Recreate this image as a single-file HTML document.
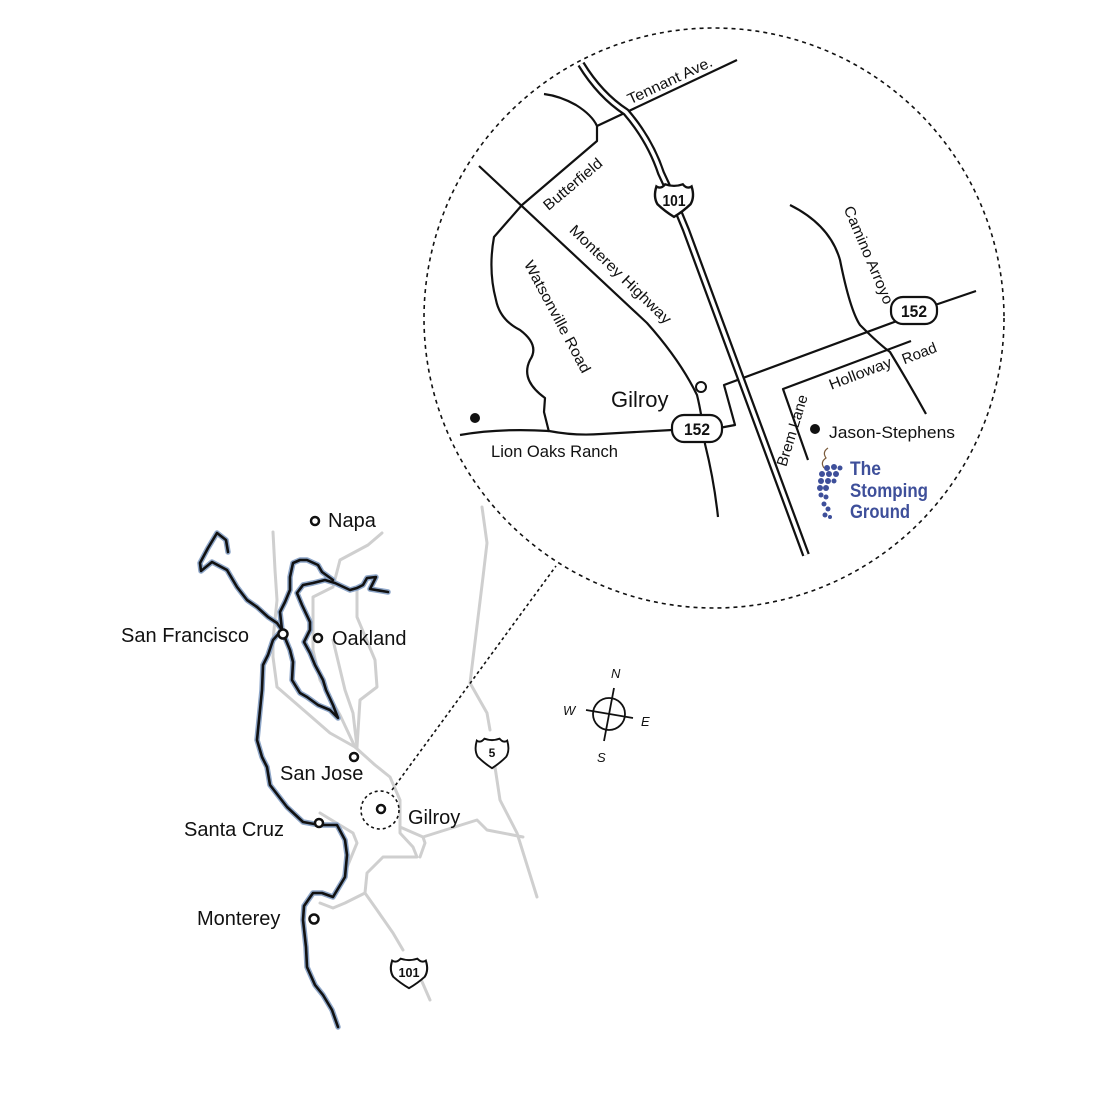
<!DOCTYPE html>
<html><head><meta charset="utf-8"><style>
html,body{margin:0;padding:0;background:#fff;}
svg{display:block;}
text{font-family:"Liberation Sans",sans-serif;fill:#111;}
</style></head><body>
<svg width="1109" height="1097" viewBox="0 0 1109 1097" xmlns="http://www.w3.org/2000/svg">
<defs>
<path id="shield" d="M-16,-12 Q-12,-9 -8,-14 Q0,-11 8,-14 Q12,-9 16,-12 Q19,-2 15,5 Q8,12 0,17 Q-8,12 -15,5 Q-19,-2 -16,-12Z"/>
<path id="h101" d="M581,64 Q600,95 626,112 Q650,140 661,173 L674,201 L686,230 L806,555"/>
</defs>

<g fill="none" stroke="#cfcfcf" stroke-width="3" stroke-linejoin="round" stroke-linecap="round">
<path d="M273,532 L275,570 L277,600 L273,640 L273,657 L277,687 L307,713 L330,733 L355,747"/>
<path d="M382,533 L368,545 L340,560 L333,587 L313,597 L313,650 L320,680 L340,715 L355,747"/>
<path d="M357,590 L357,617 L375,660 L377,687 L360,700 L357,747"/>
<path d="M333,640 L345,690 L353,713 L357,747"/>
<path d="M355,747 L375,765 L390,777 L400,800 L400,833 L413,847 L417,857 L383,857 L367,873 L365,893 L377,910 L393,933 L403,950"/>
<path d="M413,975 L420,977 L430,1000"/>
<path d="M365,893 L345,903 L333,908 L320,903"/>
<path d="M320,813 L353,833 L357,843 L350,860 L343,877"/>
<path d="M400,827 L423,837 L425,843 L420,857 M423,837 L477,820 L487,830 L523,837"/>
<path d="M482,507 L487,543 L483,577 L470,683 L487,713 L490,730 M494,768 L495,767 L500,800 L517,833 L537,897"/>
</g>

<g fill="none" stroke-linejoin="round" stroke-linecap="round">
<g stroke="#8ea6c8" stroke-width="5.5">
<path id="c1" d="M228,552 L226,540 L217,533 L208,548 L200,563 L201,571 L212,562 L227,570 L237,587 L247,600 L257,607 L268,617 L277,623 L282,630 L273,640 L268,655 L263,665 L262,690 L260,710 L257,740 L262,757 L267,767 L270,785 L287,807 L303,822 L320,825 L337,825 L345,840 L347,855 L345,877 L333,897 L322,893 L313,893 L304,906 L303,920 L306,947 L307,967 L315,985 L323,995 L332,1010 L338,1027"/>
<path id="c2" d="M283,633 L290,650 L293,662 L292,680 L300,693 L307,697 L318,705 L330,710 L338,718 L333,705 L326,690 L323,680 L315,665 L310,653 L304,642 L310,630 L310,622 L302,605 L297,593 L303,585 L313,583 L325,580 L335,583 L350,590 L357,588 L363,585 L367,578 L376,577 L372,585 L370,589 L388,592"/>
<path id="c3" d="M282,630 L280,612 L285,602 L290,590 L290,577 L293,563 L300,560 L307,560 L318,565 L322,572 L333,580"/>
</g>
<g stroke="#111" stroke-width="2.6">
<use href="#c1"/><use href="#c2"/><use href="#c3"/>
</g>
</g>

<g fill="#fff" stroke="#111" stroke-width="2.5">
<circle cx="315" cy="521" r="4"/>
<circle cx="283" cy="634" r="4.5"/>
<circle cx="318" cy="638" r="4"/>
<circle cx="354" cy="757" r="4"/>
<circle cx="381" cy="809" r="4"/>
<circle cx="319" cy="823" r="4"/>
<circle cx="314" cy="919" r="4.5"/>
</g>
<g font-size="20">
<text x="328" y="527">Napa</text>
<text x="121" y="642" textLength="128" lengthAdjust="spacingAndGlyphs">San Francisco</text>
<text x="332" y="645">Oakland</text>
<text x="280" y="780">San Jose</text>
<text x="408" y="824">Gilroy</text>
<text x="184" y="836">Santa Cruz</text>
<text x="197" y="925">Monterey</text>
</g>

<circle cx="380" cy="810" r="19" fill="none" stroke="#111" stroke-width="1.6" stroke-dasharray="3,3"/>
<line x1="392" y1="790" x2="556" y2="566" stroke="#111" stroke-width="1.6" stroke-dasharray="3,3"/>

<circle cx="714" cy="318" r="290" fill="#fff" stroke="#111" stroke-width="1.6" stroke-dasharray="4,4"/>

<g fill="#fff" stroke="#111" stroke-width="2">
<use href="#shield" transform="translate(492,752) scale(0.95)"/>
<use href="#shield" transform="translate(409,972) scale(1.05,0.95)"/>
</g>
<text x="492" y="757" font-size="12" font-weight="bold" text-anchor="middle">5</text>
<text x="409" y="977" font-size="13" font-weight="bold" text-anchor="middle" textLength="21" lengthAdjust="spacingAndGlyphs">101</text>

<g stroke="#111" stroke-width="1.8" fill="none">
<circle cx="609" cy="714" r="16"/>
<line x1="614" y1="688" x2="604" y2="741"/>
<line x1="586" y1="710" x2="633" y2="718"/>
</g>
<g font-size="13" font-style="italic">
<text x="611" y="678">N</text>
<text x="641" y="726">E</text>
<text x="597" y="762">S</text>
<text x="563" y="715">W</text>
</g>

<g fill="none" stroke="#111" stroke-width="2.2" stroke-linejoin="round">
<path d="M597,126 L737,60"/>
<path d="M544,94 Q560,96 576,105 Q592,115 597,126 L597,141 L522,205 L494,237 Q488,270 496,300 Q500,320 520,330 Q540,345 530,360 Q520,380 545,398 L544,412 L549,432"/>
<path d="M460,435 Q500,428 549,431 Q575,436 601,434 L672,430"/>
<path d="M479,166 L647,323 Q680,360 697,395 Q702,415 705,444 Q714,480 718,517"/>
<path d="M719,428 L735,425 L724,385 L897,321 M935,305 L976,291"/>
<path d="M790,205 Q830,225 840,260 Q850,310 860,325 Q880,345 890,352 Q910,385 926,414"/>
<path d="M911,341 L783,389 L808,460"/>
</g>
<g fill="none" stroke-linejoin="round">
<use href="#h101" stroke="#111" stroke-width="8"/>
<use href="#h101" stroke="#fff" stroke-width="3.5"/>
</g>

<g fill="#fff" stroke="#111" stroke-width="2.2">
<use href="#shield" transform="translate(674,199) scale(1.1,1.05)"/>
<rect x="672" y="415" width="50" height="27" rx="12"/>
<rect x="891" y="297" width="46" height="27" rx="12"/>
</g>
<text x="674" y="206" font-size="16" font-weight="bold" text-anchor="middle" textLength="23" lengthAdjust="spacingAndGlyphs">101</text>
<text x="697" y="435" font-size="17" font-weight="bold" text-anchor="middle" textLength="26" lengthAdjust="spacingAndGlyphs">152</text>
<text x="914" y="317" font-size="17" font-weight="bold" text-anchor="middle" textLength="26" lengthAdjust="spacingAndGlyphs">152</text>

<circle cx="701" cy="387" r="5" fill="#fff" stroke="#111" stroke-width="2"/>
<circle cx="475" cy="418" r="5" fill="#111"/>
<circle cx="815" cy="429" r="5" fill="#111"/>

<text x="611" y="407" font-size="22">Gilroy</text>
<text x="491" y="457" font-size="17" textLength="127" lengthAdjust="spacingAndGlyphs">Lion Oaks Ranch</text>
<text x="829" y="438" font-size="17" textLength="126" lengthAdjust="spacingAndGlyphs">Jason-Stephens</text>
<g font-size="15" text-anchor="middle">
<text transform="translate(672,85) rotate(-25)" textLength="92" lengthAdjust="spacingAndGlyphs">Tennant Ave.</text>
<text transform="translate(576,188) rotate(-40)" textLength="72" lengthAdjust="spacingAndGlyphs">Butterfield</text>
<text transform="translate(617,278) rotate(44)" textLength="135" lengthAdjust="spacingAndGlyphs">Monterey Highway</text>
<text transform="translate(553,319) rotate(62)" textLength="125" lengthAdjust="spacingAndGlyphs">Watsonville Road</text>
<text transform="translate(864,257) rotate(67)" textLength="105" lengthAdjust="spacingAndGlyphs">Camino Arroyo</text>
<text transform="translate(862,378) rotate(-21)" textLength="66" lengthAdjust="spacingAndGlyphs">Holloway</text>
<text transform="translate(921,358) rotate(-21)" textLength="36" lengthAdjust="spacingAndGlyphs">Road</text>
<text transform="translate(797,432) rotate(-73)" textLength="74" lengthAdjust="spacingAndGlyphs">Brem Lane</text>
</g>

<path d="M828,448 Q822,452 826,458 Q820,462 824,468" fill="none" stroke="#7a5a3a" stroke-width="1.2"/>
<g fill="#3e4f9a">
<circle cx="827" cy="468" r="3"/><circle cx="834" cy="467" r="3"/><circle cx="840" cy="468" r="2.5"/>
<circle cx="822" cy="474" r="3"/><circle cx="829" cy="474" r="3"/><circle cx="836" cy="474" r="3"/>
<circle cx="821" cy="481" r="3"/><circle cx="828" cy="481" r="3"/><circle cx="834" cy="481" r="2.5"/>
<circle cx="820" cy="488" r="3"/><circle cx="826" cy="488" r="3"/>
<circle cx="821" cy="495" r="2.5"/><circle cx="826" cy="497" r="2.5"/>
<circle cx="824" cy="504" r="2.5"/><circle cx="828" cy="509" r="2.5"/><circle cx="825" cy="515" r="2.5"/><circle cx="830" cy="517" r="2"/>
</g>
<g font-size="19" font-weight="bold">
<text x="850" y="475" style="fill:#3e4f9a" textLength="31" lengthAdjust="spacingAndGlyphs">The</text>
<text x="850" y="497" style="fill:#3e4f9a" textLength="78" lengthAdjust="spacingAndGlyphs">Stomping</text>
<text x="850" y="518" style="fill:#3e4f9a" textLength="60" lengthAdjust="spacingAndGlyphs">Ground</text>
</g>
</svg>
</body></html>
